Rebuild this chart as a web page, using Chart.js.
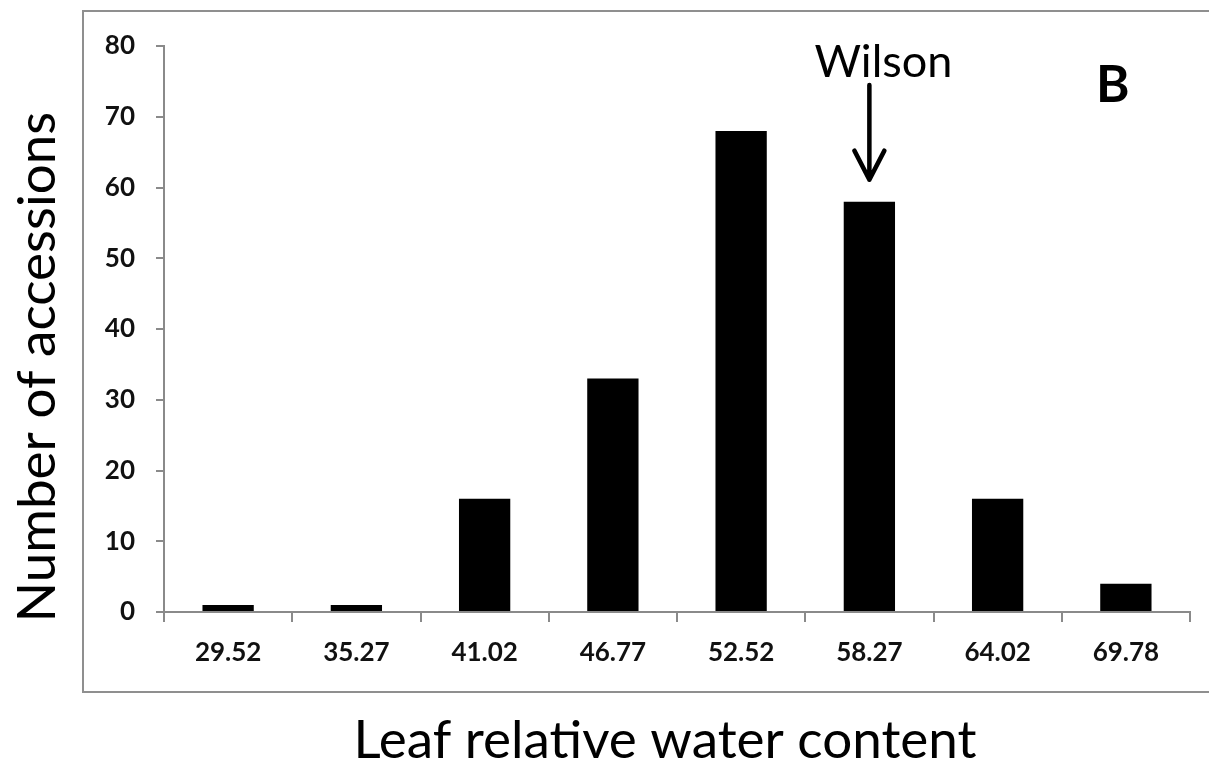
<!DOCTYPE html>
<html>
<head>
<meta charset="utf-8">
<script src="https://cdn.jsdelivr.net/npm/chart.js@4"></script>
<style>
  html, body { margin: 0; padding: 0; background: #fff; }
  canvas { display: block; }
</style>
</head>
<body>
<canvas id="histChart" width="1209" height="765"></canvas>
<script>
// bin labels (leaf relative water content) and accession counts
const binLabels = ['29.52', '35.27', '41.02', '46.77', '52.52', '58.27', '64.02', '69.78'];
const accessionCounts = [1, 1, 16, 33, 68, 58, 16, 4];
const yTicks = [0, 10, 20, 30, 40, 50, 60, 70, 80];

const xTitle = 'Leaf relative water content';
const yTitle = 'Number of accessions';
const markedLabel = 'Wilson';
const markedIndex = 5;
const panelLetter = 'B';

const AXIS_GRAY = '#8a8a8a';
const FONT = 'Lato, "Open Sans", sans-serif';

// frame, axis titles and the Wilson arrow
const decorations = {
  id: 'decorations',
  afterDraw(chart) {
    const ctx = chart.ctx;
    const x = chart.scales.x, y = chart.scales.y;
    ctx.save();

    // outer gray frame (right edge runs off the picture)
    ctx.strokeStyle = '#8f8f8f';
    ctx.lineWidth = 2;
    ctx.strokeRect(83, 11, 1140, 681);

    ctx.fillStyle = '#000';
    ctx.font = '53px ' + FONT;
    ctx.textAlign = 'center';
    ctx.textBaseline = 'alphabetic';
    ctx.fillText(xTitle, 665, 758);

    ctx.save();
    ctx.translate(55, 367);
    ctx.rotate(-Math.PI / 2);
    ctx.fillText(yTitle, 0, 0);
    ctx.restore();

    // Wilson label + arrow over its bar
    const ax = x.getPixelForValue(markedIndex);
    const barTop = y.getPixelForValue(accessionCounts[markedIndex]);
    const tipY = barTop - 22;
    ctx.font = '45px ' + FONT;
    ctx.fillText(markedLabel, ax + 14, 77);

    ctx.strokeStyle = '#000';
    ctx.lineWidth = 4.5;
    ctx.lineCap = 'round';
    ctx.lineJoin = 'round';
    ctx.beginPath();
    ctx.moveTo(ax, 85);
    ctx.lineTo(ax, tipY);
    ctx.moveTo(ax - 15, tipY - 29);
    ctx.lineTo(ax, tipY);
    ctx.lineTo(ax + 15, tipY - 29);
    ctx.stroke();

    ctx.font = 'bold 51px ' + FONT;
    ctx.textAlign = 'left';
    ctx.fillText(panelLetter, 1096, 102);

    ctx.restore();
  }
};

new Chart(document.getElementById('histChart'), {
  type: 'bar',
  data: {
    labels: binLabels,
    datasets: [{
      data: accessionCounts,
      backgroundColor: '#000',
      borderWidth: 0,
      barPercentage: 0.4,
      categoryPercentage: 1.0
    }]
  },
  options: {
    responsive: false,
    animation: false,
    layout: { padding: { left: 0, top: 46, right: 19, bottom: 0 } },
    plugins: { legend: { display: false }, tooltip: { enabled: false } },
    scales: {
      x: {
        grid: { offset: true, drawOnChartArea: false, drawTicks: true, tickLength: 10, color: AXIS_GRAY, lineWidth: 2 },
        border: { color: AXIS_GRAY, width: 2 },
        ticks: { color: '#111', padding: 15, font: { family: FONT, size: 26, weight: 'bold' }, maxRotation: 0 },
        afterFit(scale) { scale.height = 153; }
      },
      y: {
        min: 0,
        max: 80,
        afterBuildTicks(scale) { scale.ticks = yTicks.map(v => ({ value: v })); },
        grid: { drawOnChartArea: false, drawTicks: true, tickLength: 8, color: AXIS_GRAY, lineWidth: 2 },
        border: { color: AXIS_GRAY, width: 2 },
        ticks: { color: '#111', padding: 21, font: { family: FONT, size: 26, weight: 'bold' } },
        afterFit(scale) { scale.width = 164; }
      }
    }
  },
  plugins: [decorations]
});
</script>
</body>
</html>
